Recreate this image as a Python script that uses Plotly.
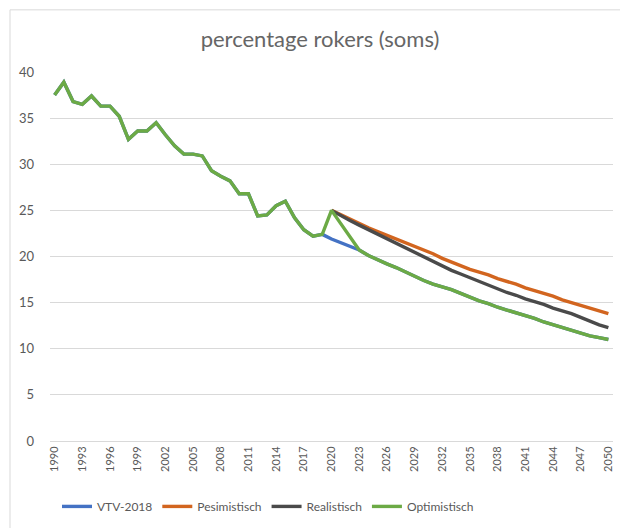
import plotly.graph_objects as go

years = list(range(1990, 2051))

historic = [37.5, 38.9, 36.8, 36.5, 37.4, 36.3, 36.3, 35.2, 32.7, 33.6,
            33.6, 34.5, 33.2, 32.0, 31.1, 31.1, 30.9, 29.3, 28.7, 28.2,
            26.8, 26.8, 24.4, 24.5, 25.5, 26.0, 24.2, 22.9, 22.2, 22.4]  # 1990-2019

vtv_2020_2023 = [21.9, 21.5, 21.1, 20.7]

optim_2023_2050 = [20.7, 20.1, 19.6, 19.2, 18.8, 18.3, 17.8, 17.4, 17.0, 16.7,
                   16.4, 16.0, 15.6, 15.2, 14.9, 14.5, 14.2, 13.9, 13.6, 13.3,
                   12.9, 12.6, 12.3, 12.0, 11.7, 11.4, 11.2, 11.0]

pessim_2020_2050 = [25.0, 24.5, 24.0, 23.6, 23.1, 22.7, 22.3, 21.9, 21.5, 21.1,
                    20.7, 20.3, 19.8, 19.4, 19.0, 18.6, 18.3, 18.0, 17.6, 17.3,
                    17.0, 16.6, 16.3, 16.0, 15.7, 15.3, 15.0, 14.7, 14.4, 14.1, 13.8]

real_2020_2050 = [25.0, 24.4, 23.9, 23.4, 22.9, 22.4, 21.9, 21.4, 20.9, 20.4,
                  19.9, 19.4, 18.9, 18.5, 18.1, 17.7, 17.3, 16.9, 16.5, 16.1,
                  15.8, 15.4, 15.1, 14.8, 14.4, 14.1, 13.8, 13.4, 13.0, 12.6, 12.3]

optim_2020 = 25.0

tick_years = years[::3]
tick_labels = [str(y) for y in tick_years]

# build series
vtv = historic + vtv_2020_2023 + optim_2023_2050[1:]
pessim = [None] * 30 + pessim_2020_2050
real = [None] * 30 + real_2020_2050
optim = historic + [optim_2020, None, None] + optim_2023_2050

FONT = "Lato, 'Open Sans', sans-serif"
TXT = "#595959"

fig = go.Figure()
series = [
    ("VTV-2018", vtv, "#4472C4"),
    ("Pesimistisch", pessim, "#D2651F"),
    ("Realistisch", real, "#4A4A4A"),
    ("Optimistisch", optim, "#6CAA45"),
]
for name, vals, col in series:
    fig.add_trace(go.Scatter(x=years, y=vals, name=name, mode="lines",
                             connectgaps=True,
                             line=dict(color=col, width=3.4)))

fig.update_layout(
    width=620, height=528,
    margin=dict(l=50, r=7, t=72, b=84),
    paper_bgcolor="white", plot_bgcolor="white",
    font=dict(family=FONT, color=TXT, size=12),
    title=dict(text="percentage rokers (soms)", x=320/620, xref="container",
               xanchor="center", y=1-39/528, yref="container", yanchor="middle",
               font=dict(size=22, color="#666666", family=FONT)),
    legend=dict(orientation="h", x=(268-50)/563, xanchor="center",
                y=(444-510)/372.3, yanchor="middle",
                font=dict(size=12, color=TXT, family=FONT),
                itemwidth=30, bgcolor="rgba(0,0,0,0)"),
    showlegend=True,
)
fig.update_xaxes(range=[1989.5, 2050.5], tickmode="array", tickvals=tick_years,
                 ticktext=tick_labels, tickangle=-90, showgrid=False,
                 showline=True, linecolor="#D9D9D9", linewidth=1,
                 ticks="", tickfont=dict(size=11, color=TXT), zeroline=False)
fig.update_yaxes(range=[0, 40], dtick=5, showgrid=True, gridcolor="#D9D9D9",
                 gridwidth=1, zeroline=False, showline=False, ticks="",
                 tickfont=dict(size=13, color=TXT), ticklabelstandoff=15)

fig.add_shape(type="rect", xref="paper", yref="paper",
              x0=(10-50)/563, x1=(630-50)/563, y0=(444-540)/372.3, y1=(444-9)/372.3,
              line=dict(color="#D9D9D9", width=1), layer="below")

fig.write_html("out.html", config={"displayModeBar": False},
               post_script="document.body.style.margin='0';document.body.style.overflow='hidden';")
